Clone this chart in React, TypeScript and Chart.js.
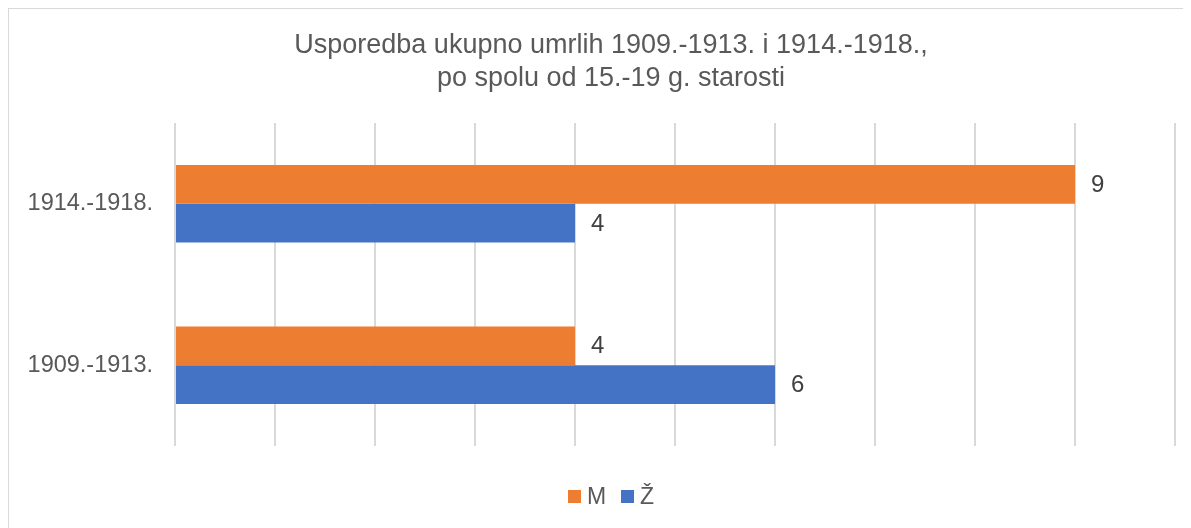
import React, { useEffect, useRef } from "react";
import { Chart, registerables } from "chart.js";

Chart.register(...registerables);

const titleLines = ["Usporedba ukupno umrlih 1909.-1913. i 1914.-1918.,", "po spolu od 15.-19 g. starosti"];
const categories = ["1914.-1918.", "1909.-1913."];
const seriesNames = ["M", "Ž"];
const maleValues = [9, 4];
const femaleValues = [4, 6];
const axisMin = 0;
const axisMax = 10;
const axisStep = 1;

const FONT = '"Liberation Sans", Arial, sans-serif';

const valueLabels = {
  id: "valueLabels",
  afterDatasetsDraw(chart: any) {
    const ctx = chart.ctx;
    ctx.save();
    ctx.font = `24px ${FONT}`;
    ctx.fillStyle = "#404040";
    ctx.textAlign = "left";
    ctx.textBaseline = "middle";
    chart.data.datasets.forEach((ds: any, i: number) => {
      const meta = chart.getDatasetMeta(i);
      meta.data.forEach((bar: any, j: number) => {
        ctx.fillText(String(ds.data[j]), bar.x + 16, bar.y + 1);
      });
    });
    ctx.restore();
  },
};

const chartTitle = {
  id: "chartTitle",
  afterDraw(chart: any) {
    const ctx = chart.ctx;
    ctx.save();
    ctx.font = `27px ${FONT}`;
    ctx.fillStyle = "#595959";
    ctx.textAlign = "center";
    ctx.textBaseline = "middle";
    const cx = chart.width / 2 + 11;
    titleLines.forEach((line, i) => {
      ctx.fillText(line, cx, 37 + i * 32.4);
    });
    ctx.restore();
  },
};

const bottomLegend = {
  id: "bottomLegend",
  afterDraw(chart: any) {
    const ctx = chart.ctx;
    ctx.save();
    ctx.font = `23px ${FONT}`;
    ctx.textAlign = "left";
    ctx.textBaseline = "middle";
    const box = 13;
    const gap = 6;
    const itemGap = 15;
    const items = chart.data.datasets.map((ds: any) => ({
      text: ds.label,
      color: ds.backgroundColor,
      w: box + gap + ctx.measureText(ds.label).width,
    }));
    const total = items.reduce((s: number, it: any) => s + it.w, 0) + itemGap * (items.length - 1);
    const cx = chart.width / 2 + 11;
    const cy = chart.chartArea.bottom + 50.5;
    let x = cx - total / 2;
    items.forEach((it: any) => {
      ctx.fillStyle = it.color;
      ctx.fillRect(Math.round(x), Math.round(cy - box / 2), box, box);
      ctx.fillStyle = "#595959";
      ctx.fillText(it.text, x + box + gap, cy + 1);
      x += it.w + itemGap;
    });
    ctx.restore();
  },
};

export default function App() {
  const canvasRef = useRef<HTMLCanvasElement | null>(null);

  useEffect(() => {
    document.documentElement.style.overflow = "hidden";
    document.body.style.overflow = "hidden";
    const canvas = canvasRef.current;
    if (!canvas) return;
    const chart = new Chart(canvas, {
      type: "bar",
      data: {
        labels: categories,
        datasets: [
          {
            label: seriesNames[0],
            data: maleValues,
            backgroundColor: "#ED7D31",
            categoryPercentage: 0.48,
            barPercentage: 1,
          },
          {
            label: seriesNames[1],
            data: femaleValues,
            backgroundColor: "#4472C4",
            categoryPercentage: 0.48,
            barPercentage: 1,
          },
        ],
      },
      options: {
        indexAxis: "y",
        animation: false,
        responsive: true,
        maintainAspectRatio: false,
        layout: { padding: { left: 0, right: 16, top: 114, bottom: 82 } },
        scales: {
          x: {
            min: axisMin,
            max: axisMax,
            ticks: { display: false, stepSize: axisStep },
            grid: { color: "#d9d9d9", lineWidth: 2, drawTicks: false },
            border: { display: false },
            afterFit: (s: any) => {
              s.height = 0;
            },
          },
          y: {
            grid: { display: false, drawTicks: false },
            border: { display: false },
            ticks: {
              color: "#595959",
              font: { family: FONT, size: 23.5 },
              padding: 22,
            },
            afterFit: (s: any) => {
              s.width = 166;
            },
          },
        },
        plugins: {
          title: { display: false },
          legend: { display: false },
          tooltip: { enabled: false },
        },
      },
      plugins: [valueLabels, chartTitle, bottomLegend],
    } as any);
    return () => chart.destroy();
  }, []);

  return (
    <div
      style={{
        width: 1183,
        height: 520,
        boxSizing: "border-box",
        borderTop: "1px solid #d9d9d9",
        borderLeft: "1px solid #d9d9d9",
        background: "#fff",
      }}
    >
      <div style={{ position: "relative", width: 1182, height: 519 }}>
        <canvas ref={canvasRef} />
      </div>
    </div>
  );
}
